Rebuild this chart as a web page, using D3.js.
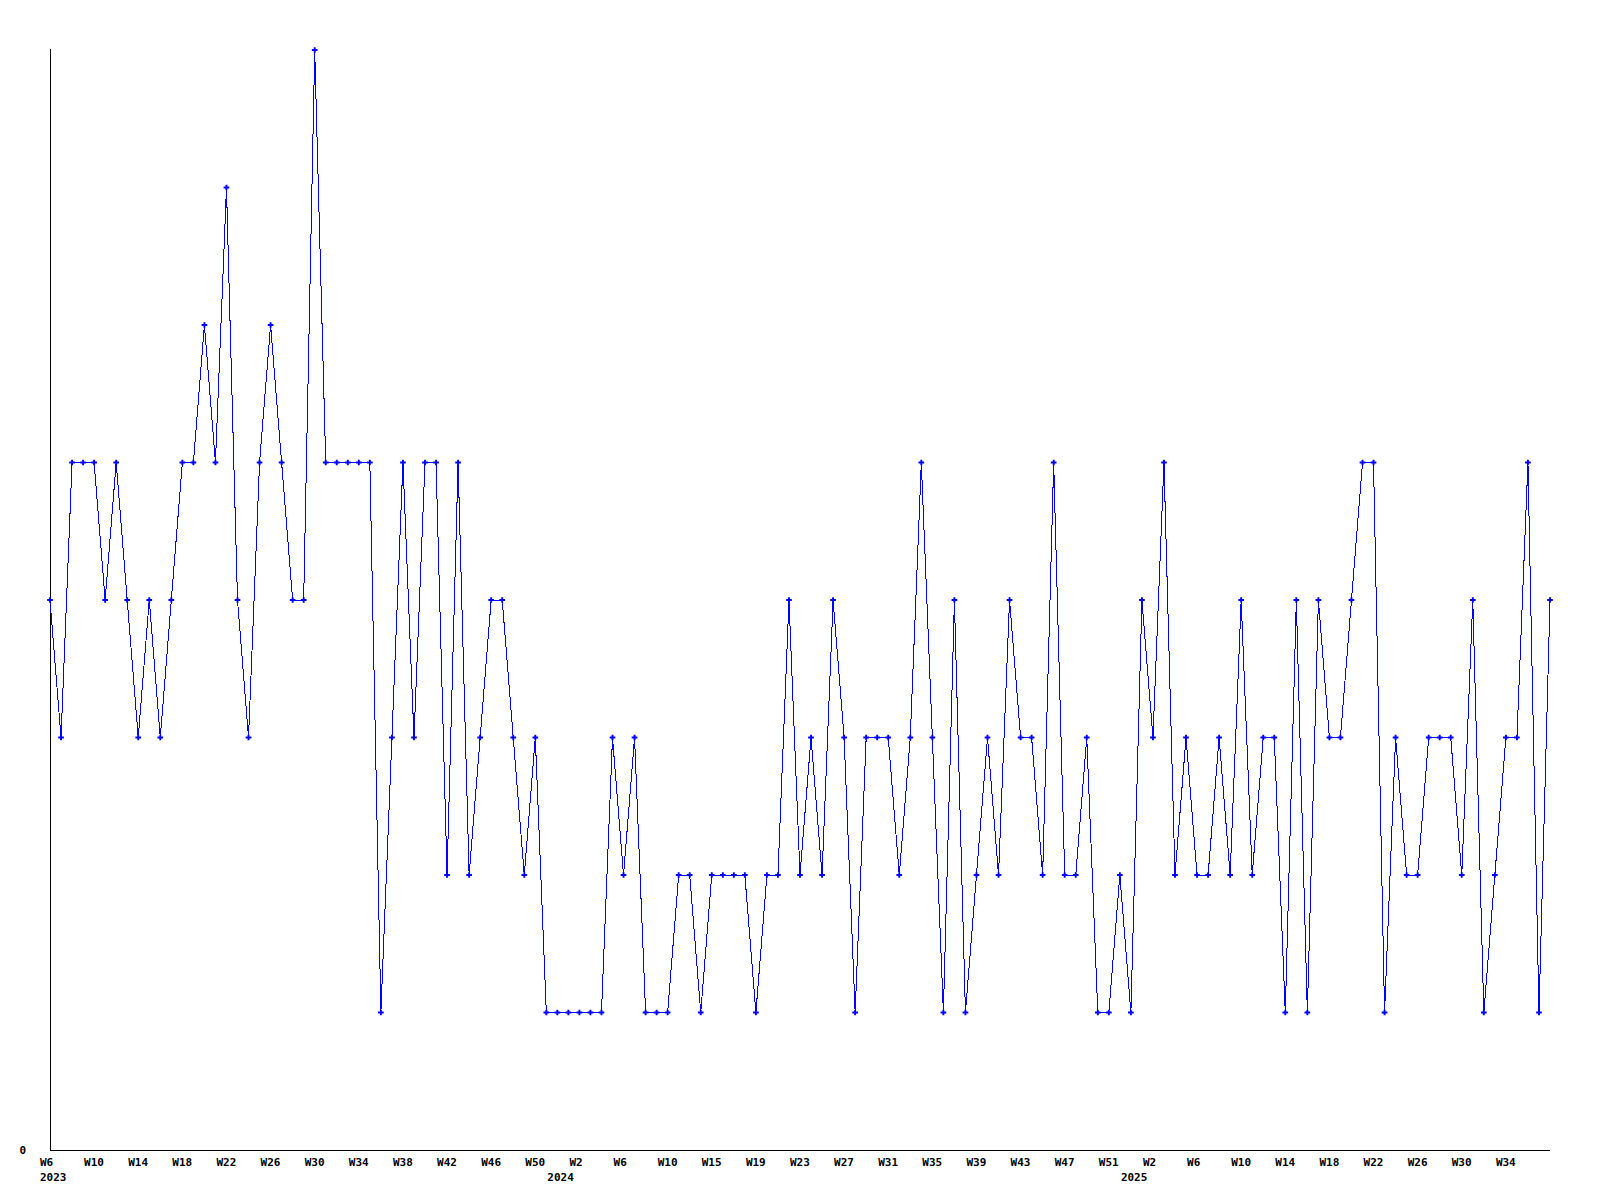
<!DOCTYPE html>
<html>
<head>
<meta charset="utf-8">
<script src="https://cdn.jsdelivr.net/npm/d3@7"></script>
<style>
  html, body { margin: 0; padding: 0; background: #fff; }
  svg { display: block; }
  text { font-family: "DejaVu Sans Mono", "Liberation Mono", monospace; font-weight: bold; font-size: 11px; fill: #000; }
</style>
</head>
<body>
<svg id="chart" width="1600" height="1200"></svg>
<script>
// ── Data ──────────────────────────────────────────────────────────────────────
// weekly counts, 2023 W6 onward (one value per week on the axis)
const values = [
  4, 3, 5, 5, 5, 4, 5, 4, 3, 4, 3, 4, 5, 5, 6, 5, 7, 4, 3, 5,
  6, 5, 4, 4, 8, 5, 5, 5, 5, 5, 1, 3, 5, 3, 5, 5, 2, 5, 2, 3,
  4, 4, 3, 2, 3, 1, 1, 1, 1, 1, 1, 3, 2, 3, 1, 1, 1, 2, 2, 1,
  2, 2, 2, 2, 1, 2, 2, 4, 2, 3, 2, 4, 3, 1, 3, 3, 3, 2, 3, 5,
  3, 1, 4, 1, 2, 3, 2, 4, 3, 3, 2, 5, 2, 2, 3, 1, 1, 2, 1, 4,
  3, 5, 2, 3, 2, 2, 3, 2, 4, 2, 3, 3, 1, 4, 1, 4, 3, 3, 4, 5,
  5, 1, 3, 2, 2, 3, 3, 3, 2, 4, 1, 2, 3, 3, 5, 1, 4
];

// one label every 4th point
const tickLabels = [
  'W6', 'W10', 'W14', 'W18', 'W22', 'W26', 'W30', 'W34', 'W38', 'W42', 'W46', 'W50',
  'W2', 'W6', 'W10', 'W15', 'W19', 'W23', 'W27', 'W31', 'W35', 'W39', 'W43', 'W47', 'W51',
  'W2', 'W6', 'W10', 'W14', 'W18', 'W22', 'W26', 'W30', 'W34'
];
const TICK_EVERY = 4;

const yearLabels = ['2023', '2024', '2025'];
const yearIndex  = [0, 46, 98];

// ── Layout ────────────────────────────────────────────────────────────────────
const LEFT = 50, RIGHT = 1550, TOP = 50, BOTTOM = 1150;
const LINE_COLOR = '#0000ff';

const svg = d3.select('#chart');

const x = d3.scaleLinear().domain([0, values.length - 1]).range([LEFT, RIGHT]);
const y = d3.scaleLinear().domain([0, d3.max(values)]).range([BOTTOM, TOP]);

// ── Axes (plain lines, no tick marks) ─────────────────────────────────────────
svg.append('line')
  .attr('x1', LEFT).attr('x2', LEFT)
  .attr('y1', TOP - 1).attr('y2', BOTTOM)
  .attr('stroke', '#000').attr('shape-rendering', 'crispEdges');

svg.append('line')
  .attr('x1', LEFT).attr('x2', RIGHT)
  .attr('y1', BOTTOM).attr('y2', BOTTOM)
  .attr('stroke', '#000').attr('shape-rendering', 'crispEdges');

svg.append('text')
  .attr('x', LEFT - 24).attr('y', y(0) + 3.5)
  .attr('text-anchor', 'end')
  .text('0');

// week labels, left edge sits 10px before the point
svg.selectAll('text.week')
  .data(tickLabels)
  .join('text')
  .attr('class', 'week')
  .attr('x', (d, i) => x(i * TICK_EVERY) - 10)
  .attr('y', BOTTOM + 16)
  .text(d => d);

svg.selectAll('text.year')
  .data(yearLabels)
  .join('text')
  .attr('class', 'year')
  .attr('x', (d, i) => x(yearIndex[i]) - 10)
  .attr('y', BOTTOM + 31)
  .text(d => d);

// ── Series ────────────────────────────────────────────────────────────────────
const line = d3.line()
  .x((d, i) => x(i))
  .y(d => y(d));

svg.append('path')
  .datum(values)
  .attr('fill', 'none')
  .attr('stroke', LINE_COLOR)
  .attr('stroke-width', 1)
  .attr('shape-rendering', 'crispEdges')
  .attr('d', line);

const marker = d3.symbol().type(d3.symbolCross).size(18);

svg.selectAll('path.pt')
  .data(values)
  .join('path')
  .attr('class', 'pt')
  .attr('transform', (d, i) => `translate(${x(i)},${y(d)})`)
  .attr('fill', LINE_COLOR)
  .attr('d', marker);
</script>
</body>
</html>
